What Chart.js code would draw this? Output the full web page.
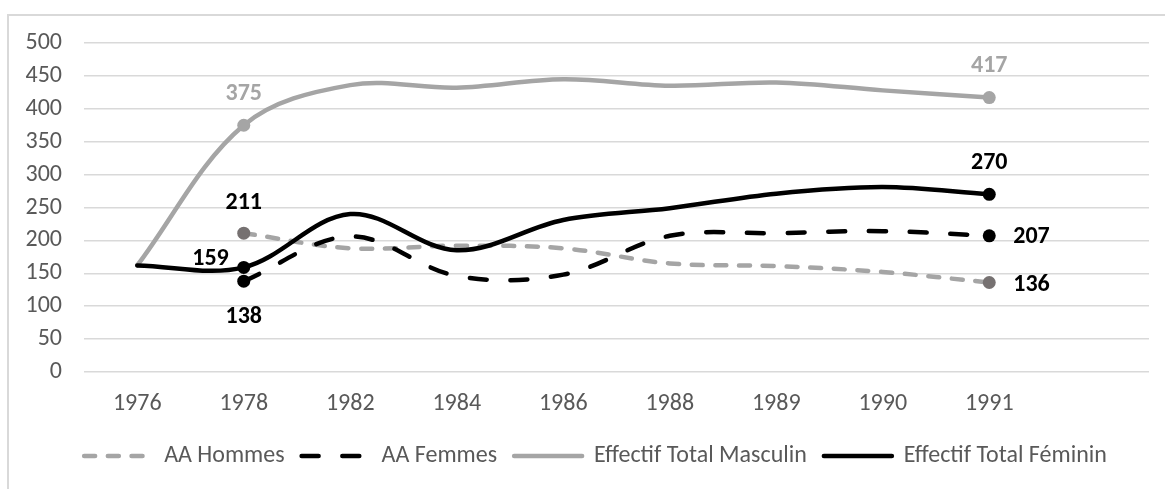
<!DOCTYPE html>
<html>
<head>
<meta charset="utf-8">
<script src="https://cdn.jsdelivr.net/npm/chart.js@4.4.0/dist/chart.umd.min.js"></script>
<style>
  html, body { margin: 0; padding: 0; background: #fff; overflow: hidden; }
  #frame { position: absolute; left: 7px; top: 14px; width: 2000px; height: 1000px;
           border-left: 2px solid #d9d9d9; border-top: 2px solid #d9d9d9; }
  #wrap { position: absolute; left: 0; top: 0; width: 1165px; height: 489px; }
</style>
</head>
<body>
<div id="frame"></div>
<div id="wrap"><canvas id="chart"></canvas></div>
<script>
// données (la dernière catégorie est vide)
const years = ['1976', '1978', '1982', '1984', '1986', '1988', '1989', '1990', '1991', ''];
const aaHommes = [null, 211, 188, 192, 188, 165, 161, 152, 136, null];
const aaFemmes = [null, 138, 206, 146, 148, 207, 211, 214, 207, null];
const totalMasculin = [162, 375, 436, 432, 445, 435, 440, 428, 417, null];
const totalFeminin = [162, 159, 240, 185, 231, 249, 271, 281, 270, null];

const GRAY = '#a5a5a5';
const DARK = '#767171';
const FONT = 'Carlito, Roboto, sans-serif';
const FONT_SIZE = 24;

// marqueurs seulement en 1978 et 1991
const markers = [0, 6.5, 0, 0, 0, 0, 0, 0, 6.5, 0];

// étiquettes de valeurs : dataset, index, couleur, décalage
const valueLabels = [
  { ds: 2, i: 1, color: GRAY, dx: 0, dy: -31, align: 'center' },
  { ds: 0, i: 1, color: '#000', dx: 0, dy: -30, align: 'center' },
  { ds: 3, i: 1, color: '#000', dx: -15, dy: -8, align: 'right' },
  { ds: 1, i: 1, color: '#000', dx: 0, dy: 36, align: 'center' },
  { ds: 2, i: 8, color: GRAY, dx: 0, dy: -32, align: 'center' },
  { ds: 3, i: 8, color: '#000', dx: 0, dy: -31, align: 'center' },
  { ds: 1, i: 8, color: '#000', dx: 24, dy: 1, align: 'left' },
  { ds: 0, i: 8, color: '#000', dx: 24, dy: 2, align: 'left' },
];

const labelPlugin = {
  id: 'valueLabels',
  afterLayout(chart) {
    // la légende est centrée sous la zone de tracé, pas sous tout le canevas
    chart.legend.left = 42;
  },
  afterDatasetsDraw(chart) {
    const ctx = chart.ctx;
    ctx.save();
    ctx.font = 'bold ' + FONT_SIZE + 'px ' + FONT;
    ctx.textBaseline = 'middle';
    valueLabels.forEach(function (l) {
      const pt = chart.getDatasetMeta(l.ds).data[l.i];
      const v = chart.data.datasets[l.ds].data[l.i];
      ctx.fillStyle = l.color;
      ctx.textAlign = l.align;
      ctx.fillText(String(v), pt.x + l.dx, pt.y + l.dy);
    });
    ctx.restore();
  }
};

Chart.defaults.font.family = FONT;
Chart.defaults.font.size = FONT_SIZE;
Chart.defaults.color = '#595959';

function lineDataset(label, data, color, pointColor, dash, order) {
  return {
    label: label,
    data: data,
    borderColor: color,
    backgroundColor: color,
    borderWidth: 4.5,
    borderDash: dash,
    borderCapStyle: 'round',
    pointRadius: markers,
    pointBackgroundColor: pointColor,
    pointBorderWidth: 0,
    tension: 0.35,
    order: order,
  };
}

new Chart(document.getElementById('chart'), {
  type: 'line',
  data: {
    labels: years,
    datasets: [
      lineDataset('AA Hommes', aaHommes, GRAY, DARK, [11, 12.7], 4),
      lineDataset('AA Femmes', aaFemmes, '#000', '#000', [17, 23.7], 3),
      lineDataset('Effectif Total Masculin', totalMasculin, GRAY, GRAY, [], 2),
      lineDataset('Effectif Total Féminin', totalFeminin, '#000', '#000', [], 1),
    ],
  },
  options: {
    responsive: true,
    maintainAspectRatio: false,
    animation: false,
    layout: { padding: { left: 0, right: 16, top: 43, bottom: 11 } },
    scales: {
      x: {
        offset: true,
        grid: { display: false, drawTicks: false },
        border: { display: false },
        ticks: { padding: 17.5, color: '#595959', maxRotation: 0, autoSkip: false },
        afterFit: function (scale) { scale.height = 55; },
      },
      y: {
        min: 0,
        max: 500,
        ticks: { stepSize: 50, padding: 22, color: '#595959' },
        grid: { color: '#d9d9d9', lineWidth: 1.5, drawTicks: false },
        border: { display: false },
        afterFit: function (scale) { scale.width = 84; },
      },
    },
    plugins: {
      legend: {
        position: 'bottom',
        labels: {
          usePointStyle: true,
          pointStyle: 'line',
          pointStyleWidth: 68,
          padding: 17,
          color: '#595959',
          generateLabels: function (chart) {
            return chart.data.datasets.map(function (ds, i) {
              return {
                text: ds.label,
                datasetIndex: i,
                fillStyle: ds.borderColor,
                strokeStyle: ds.borderColor,
                lineWidth: ds.borderWidth,
                lineDash: ds.borderDash,
                lineCap: 'round',
                pointStyle: 'line',
                fontColor: '#595959',
                hidden: false,
              };
            });
          },
        },
      },
      tooltip: { enabled: false },
    },
  },
  plugins: [labelPlugin],
});
</script>
</body>
</html>
